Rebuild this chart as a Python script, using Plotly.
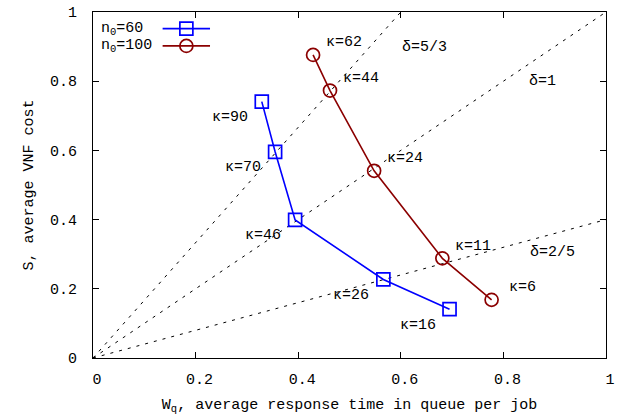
import plotly.graph_objects as go

# Operating points for the two population sizes
n60_wq = [0.329, 0.355, 0.394, 0.566, 0.695]
n60_s = [0.741, 0.596, 0.399, 0.227, 0.141]
n60_kappa = [90, 70, 46, 26, 16]

n100_wq = [0.429, 0.462, 0.548, 0.681, 0.777]
n100_s = [0.876, 0.773, 0.541, 0.288, 0.168]
n100_kappa = [62, 44, 24, 11, 6]

# Iso-ratio reference lines S = delta * Wq
delta_vals = [5 / 3, 1, 2 / 5]
delta_text = ["5/3", "1", "2/5"]
delta_label_pos = [(0.646, 0.897), (0.876, 0.798), (0.896, 0.306)]

tick_vals = [0, 0.2, 0.4, 0.6, 0.8, 1]
tick_text = ["0", "0.2", "0.4", "0.6", "0.8", "1"]

BLUE = "#0000ff"
DARKRED = "#8b0000"
FONT = "Liberation Mono"

fig = go.Figure()

for d in delta_vals:
    x_end = min(1.0, 1.0 / d)
    fig.add_trace(go.Scatter(
        x=[0, x_end], y=[0, d * x_end], mode="lines",
        line=dict(color="black", width=1, dash="3px,6px"),
        showlegend=False, hoverinfo="skip"))

fig.add_trace(go.Scatter(
    x=n60_wq, y=n60_s, mode="lines+markers", name="n<sub>0</sub>=60",
    line=dict(color=BLUE, width=1.6),
    marker=dict(symbol="square-open", size=13, color=BLUE, line=dict(width=1.7)),
    showlegend=False))
fig.add_trace(go.Scatter(
    x=n100_wq, y=n100_s, mode="lines+markers", name="n<sub>0</sub>=100",
    line=dict(color=DARKRED, width=1.6),
    marker=dict(symbol="circle-open", size=13, color=DARKRED, line=dict(width=1.7)),
    showlegend=False))

annotations = []
for x, y, k in zip(n60_wq, n60_s, n60_kappa):
    annotations.append(dict(x=x, y=y, text=f"κ={k}", showarrow=False,
                            xshift=-32, yshift=-16, xanchor="center", yanchor="middle"))
for x, y, k in zip(n100_wq, n100_s, n100_kappa):
    annotations.append(dict(x=x, y=y, text=f"κ={k}", showarrow=False,
                            xshift=31, yshift=12, xanchor="center", yanchor="middle"))
for (x, y), t in zip(delta_label_pos, delta_text):
    annotations.append(dict(x=x, y=y, text=f"δ={t}", showarrow=False,
                            xanchor="center", yanchor="middle"))

# Key in the upper-left corner: label, then line sample with its marker
legend_rows = [("n<sub>0</sub>=60", BLUE, "rect", 0.952),
               ("n<sub>0</sub>=100", DARKRED, "circle", 0.902)]
shapes = []
for label, color, kind, yp in legend_rows:
    annotations.append(dict(x=0.012, y=yp, xref="paper", yref="paper", text=label,
                            showarrow=False, xanchor="left", yanchor="middle"))
    shapes.append(dict(type="line", xref="paper", yref="paper",
                       x0=0.1357, x1=0.2281, y0=yp, y1=yp,
                       line=dict(color=color, width=1.6)))
    shapes.append(dict(type=kind, xref="paper", yref="paper",
                       xsizemode="pixel", ysizemode="pixel",
                       xanchor=0.182, yanchor=yp, x0=-6.5, x1=6.5, y0=-6.5, y1=6.5,
                       line=dict(color=color, width=1.7), fillcolor="rgba(0,0,0,0)"))

axis_common = dict(
    range=[0, 1], tickvals=tick_vals, ticktext=tick_text, automargin=False,
    showgrid=False, zeroline=False, showline=True, linecolor="black", linewidth=1,
    mirror="ticks", ticks="inside", ticklen=6, tickcolor="black",
    tickfont=dict(family=FONT, size=15, color="black"))

fig.update_layout(
    width=619, height=415,
    margin=dict(l=93, r=13, t=12, b=57),
    plot_bgcolor="white", paper_bgcolor="white",
    font=dict(family=FONT, size=15, color="black"),
    xaxis=dict(**axis_common, ticklabelstandoff=7, ticklabelshift=4,
               title=dict(text="W<sub>q</sub>, average response time in queue per job",
                          font=dict(family=FONT, size=15), standoff=10)),
    yaxis=dict(**axis_common, ticklabelstandoff=12,
               title=dict(text="S, average VNF cost",
                          font=dict(family=FONT, size=15), standoff=12)),
    annotations=annotations,
    shapes=shapes,
)

fig.write_html("out.html")
